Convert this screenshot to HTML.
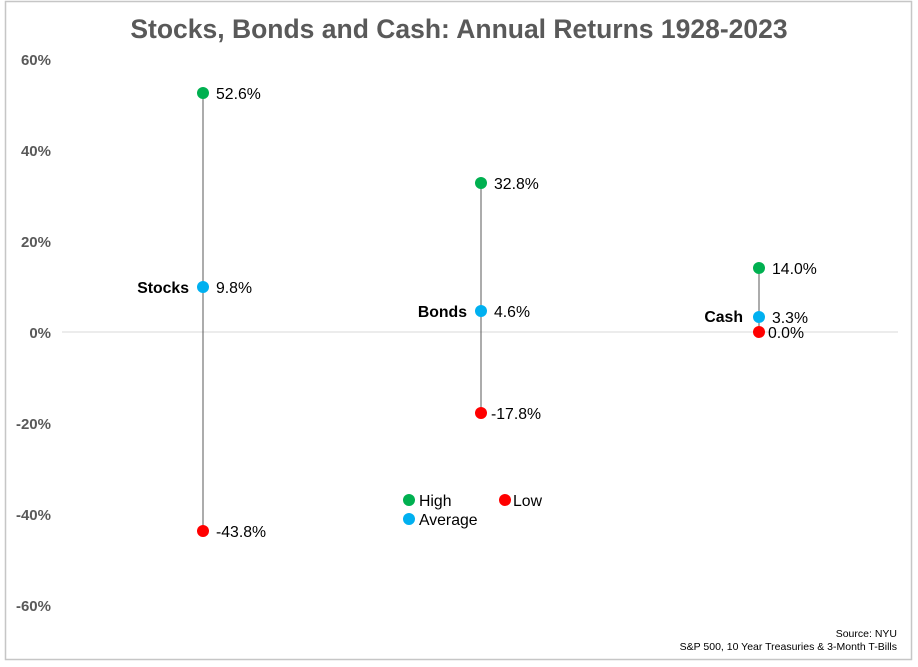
<!DOCTYPE html>
<html><head><style>
body{margin:0;background:#fff;}
svg{display:block;font-family:"Liberation Sans",Arial,sans-serif;}
</style></head><body>
<svg width="918" height="667" viewBox="0 0 918 667">
<rect x="0" y="0" width="918" height="667" fill="#fff"/>
<rect x="5.5" y="1.5" width="906" height="658" fill="#fff" stroke="#c6c6c6" stroke-width="1.5"/>
<text x="459" y="38" text-anchor="middle" font-size="26.5" font-weight="bold" fill="#595959">Stocks, Bonds and Cash: Annual Returns 1928-2023</text>
<g font-size="15" font-weight="bold" fill="#595959" text-anchor="end">
<text x="51" y="65">60%</text>
<text x="51" y="156">40%</text>
<text x="51" y="247">20%</text>
<text x="51" y="338">0%</text>
<text x="51" y="429">-20%</text>
<text x="51" y="520">-40%</text>
<text x="51" y="611">-60%</text>
</g>
<line x1="62" y1="332" x2="898" y2="332" stroke="#d9d9d9" stroke-width="1"/>
<g stroke="#595959" stroke-width="1">
<line x1="203" y1="93" x2="203" y2="531"/>
<line x1="481" y1="183" x2="481" y2="413"/>
<line x1="759" y1="268" x2="759" y2="332"/>
</g>
<g>
<circle cx="203" cy="93" r="6" fill="#00b050"/>
<circle cx="203" cy="287" r="6" fill="#00b0f0"/>
<circle cx="203" cy="531" r="6" fill="#ff0000"/>
<circle cx="481" cy="183" r="6" fill="#00b050"/>
<circle cx="481" cy="311" r="6" fill="#00b0f0"/>
<circle cx="481" cy="413" r="6" fill="#ff0000"/>
<circle cx="759" cy="268" r="6" fill="#00b050"/>
<circle cx="759" cy="317" r="6" fill="#00b0f0"/>
<circle cx="759" cy="332" r="6" fill="#ff0000"/>
</g>
<g font-size="15.8" fill="#000">
<text x="216" y="99">52.6%</text>
<text x="216" y="293">9.8%</text>
<text x="216" y="537">-43.8%</text>
<text x="494" y="189">32.8%</text>
<text x="494" y="317">4.6%</text>
<text x="491" y="419">-17.8%</text>
<text x="772" y="274">14.0%</text>
<text x="772" y="323">3.3%</text>
<text x="768" y="338">0.0%</text>
</g>
<g font-size="15.8" font-weight="bold" fill="#000" text-anchor="end">
<text x="189" y="293">Stocks</text>
<text x="467" y="317">Bonds</text>
<text x="743" y="322">Cash</text>
</g>
<circle cx="409" cy="500" r="6" fill="#00b050"/>
<circle cx="505" cy="500" r="6" fill="#ff0000"/>
<circle cx="409" cy="519" r="6" fill="#00b0f0"/>
<g font-size="15.8" fill="#000">
<text x="419" y="506">High</text>
<text x="513" y="506">Low</text>
<text x="419" y="525">Average</text>
</g>
<g font-size="10.5" fill="#000" text-anchor="end">
<text x="897" y="637">Source: NYU</text>
<text x="897" y="650">S&amp;P 500, 10 Year Treasuries &amp; 3-Month T-Bills</text>
</g>
</svg>
</body></html>
